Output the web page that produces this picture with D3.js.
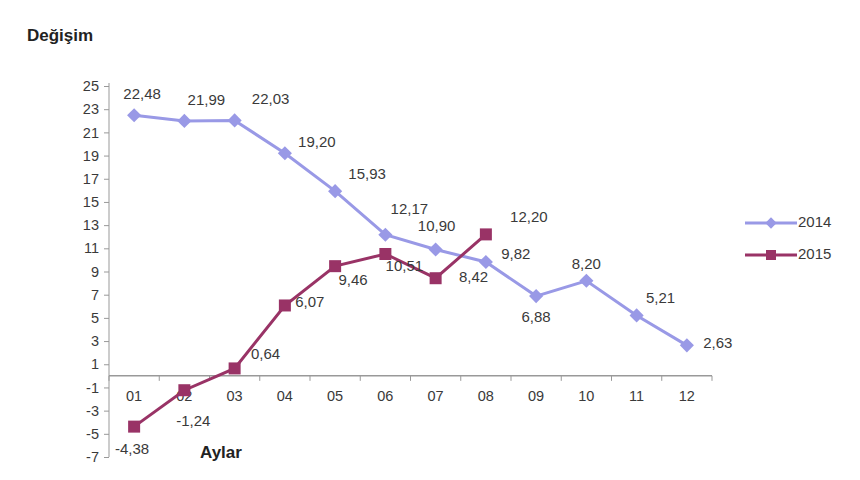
<!DOCTYPE html>
<html>
<head>
<meta charset="utf-8">
<script src="https://cdn.jsdelivr.net/npm/d3@7"></script>
<style>
  body { margin: 0; background: #fff; }
  svg { font-family: "Liberation Sans", Arial, sans-serif; }
</style>
</head>
<body>
<div id="chart"></div>
<script>
// months on the x axis
const months = ['01', '02', '03', '04', '05', '06', '07', '08', '09', '10', '11', '12'];
// series values (change, %)
const values2014 = [22.48, 21.99, 22.03, 19.20, 15.93, 12.17, 10.90, 9.82, 6.88, 8.20, 5.21, 2.63];
const values2015 = [-4.38, -1.24, 0.64, 6.07, 9.46, 10.51, 8.42, 12.20];
const yTicks = [25, 23, 21, 19, 17, 15, 13, 11, 9, 7, 5, 3, 1, -1, -3, -5, -7];

// label offsets from each point [dx, dy] (layout only)
const off2014 = [[8, -20], [22, -20], [36, -20], [32, -10], [32, -16], [24, -25], [1, -22], [30, -7], [0, 22], [0, -16], [24, -16], [31, -1]];
const off2015 = [[-2, 23], [9, 32], [31, -13], [25, -2], [18, 15], [19, 13], [38, 0], [43, -16]];

const width = 860, height = 480;
const col2014 = '#9999e6', col2015 = '#993366';
const textCol = '#3a3a3a';

const svg = d3.select('#chart').append('svg')
  .attr('width', width)
  .attr('height', height);

const x = d3.scaleBand().domain(months).range([109, 712]);
const y = d3.scaleLinear().domain([-7, 25]).range([457, 86]);
const cx = m => x(m) + x.bandwidth() / 2;

// y axis
const yAxis = svg.append('g')
  .attr('transform', 'translate(109,0)')
  .call(d3.axisLeft(y).tickValues(yTicks).tickSize(5).tickPadding(5).tickFormat(d3.format('d')));
yAxis.select('.domain').attr('stroke', '#999').attr('d', `M0,${y(25) - 3}V${y(-7)}`);
yAxis.selectAll('.tick line').attr('stroke', '#999');
yAxis.selectAll('.tick text').attr('fill', textCol).attr('font-size', 14.5)
  .text(d => d < 0 ? '-' + Math.abs(d) : d);

// x axis at zero with ticks at category boundaries
const xg = svg.append('g').attr('transform', `translate(0,${y(0)})`);
xg.append('line')
  .attr('x1', x.range()[0]).attr('x2', x.range()[1])
  .attr('stroke', '#999').attr('stroke-width', 1.5);
const bounds = months.map(m => x(m)).concat([x.range()[1]]);
xg.selectAll('.xt').data(bounds).join('line')
  .attr('x1', d => d).attr('x2', d => d)
  .attr('y1', 0).attr('y2', 5)
  .attr('stroke', '#999');
xg.selectAll('.xl').data(months).join('text')
  .attr('x', d => cx(d))
  .attr('y', 21)
  .attr('text-anchor', 'middle')
  .attr('dominant-baseline', 'middle')
  .attr('font-size', 14.5)
  .attr('fill', textCol)
  .text(d => d);

const line = d3.line().x((d, i) => cx(months[i])).y(d => y(d));

// 2014 series
svg.append('path').datum(values2014)
  .attr('d', line).attr('fill', 'none')
  .attr('stroke', col2014).attr('stroke-width', 3);
svg.selectAll('.m14').data(values2014).join('rect')
  .attr('width', 10).attr('height', 10)
  .attr('x', -5).attr('y', -5)
  .attr('transform', (d, i) => `translate(${cx(months[i])},${y(d)}) rotate(45)`)
  .attr('fill', col2014);

// 2015 series
svg.append('path').datum(values2015)
  .attr('d', line).attr('fill', 'none')
  .attr('stroke', col2015).attr('stroke-width', 3);
svg.selectAll('.m15').data(values2015).join('rect')
  .attr('x', (d, i) => cx(months[i]) - 6)
  .attr('y', d => y(d) - 6)
  .attr('width', 12).attr('height', 12)
  .attr('fill', col2015);

const fmt = v => v.toFixed(2).replace('.', ',');

svg.selectAll('.l14').data(values2014).join('text')
  .attr('x', (d, i) => cx(months[i]) + off2014[i][0])
  .attr('y', (d, i) => y(d) + off2014[i][1])
  .attr('text-anchor', 'middle')
  .attr('dominant-baseline', 'middle')
  .attr('font-size', 15).attr('fill', textCol)
  .text(fmt);

svg.selectAll('.l15').data(values2015).join('text')
  .attr('x', (d, i) => cx(months[i]) + off2015[i][0])
  .attr('y', (d, i) => y(d) + off2015[i][1])
  .attr('text-anchor', 'middle')
  .attr('dominant-baseline', 'middle')
  .attr('font-size', 15).attr('fill', textCol)
  .text(fmt);

// titles
svg.append('text').attr('x', 27).attr('y', 41)
  .attr('font-size', 17).attr('font-weight', 'bold').attr('fill', '#222')
  .text('Değişim');
svg.append('text').attr('x', 200).attr('y', 458)
  .attr('font-size', 17).attr('font-weight', 'bold').attr('fill', '#222')
  .text('Aylar');

// legend
const legend = [['2014', col2014, 'diamond'], ['2015', col2015, 'square']];
legend.forEach(([name, c, shape], i) => {
  const ly = 223 + i * 32;
  const g = svg.append('g');
  g.append('line').attr('x1', 745).attr('x2', 797).attr('y1', ly).attr('y2', ly)
    .attr('stroke', c).attr('stroke-width', 3);
  if (shape === 'diamond') {
    g.append('rect').attr('x', -4).attr('y', -4).attr('width', 8).attr('height', 8)
      .attr('transform', `translate(771,${ly}) rotate(45)`).attr('fill', c);
  } else {
    g.append('rect').attr('x', 766).attr('y', ly - 5).attr('width', 10).attr('height', 10).attr('fill', c);
  }
  g.append('text').attr('x', 798).attr('y', ly).attr('dominant-baseline', 'middle')
    .attr('font-size', 15).attr('fill', textCol).text(name);
});
</script>
</body>
</html>
